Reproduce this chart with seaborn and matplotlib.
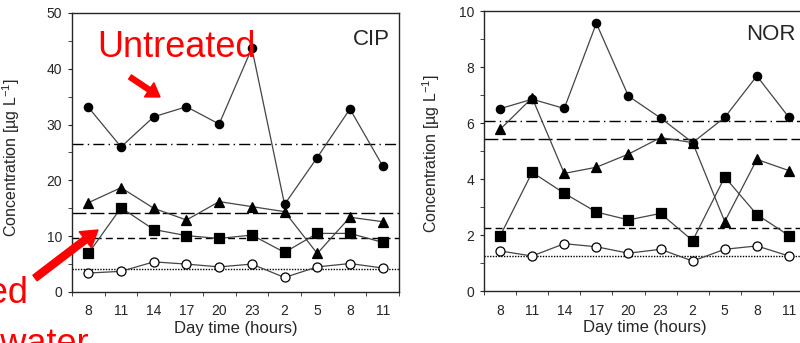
import numpy as np
import pandas as pd
import matplotlib
matplotlib.use("Agg")
import matplotlib.pyplot as plt
import seaborn as sns

sns.set_style("ticks")
plt.rcParams["font.family"] = ["Liberation Sans", "DejaVu Sans"]
plt.rcParams["mathtext.fontset"] = "custom"
plt.rcParams["mathtext.rm"] = "Liberation Sans"
plt.rcParams["mathtext.it"] = "Liberation Sans:italic"

# ---- data ----
hours = ["8", "11", "14", "17", "20", "23", "2", "5", "8", "11"]
pos = np.arange(len(hours)) + 0.5

cip_untreated = [33.1, 26.0, 31.4, 33.2, 30.1, 43.7, 15.7, 24.1, 32.8, 22.6]
cip_triangle = [16.0, 18.7, 15.0, 12.9, 16.2, 15.3, 14.4, 6.9, 13.4, 12.6]
cip_square = [6.9, 15.1, 11.2, 10.1, 9.6, 10.2, 7.1, 10.5, 10.5, 8.9]
cip_open = [3.4, 3.7, 5.4, 5.0, 4.5, 5.0, 2.6, 4.5, 5.1, 4.3]
cip_means = [26.5, 14.1, 9.7, 4.1]

nor_untreated = [6.51, 6.85, 6.52, 9.56, 6.96, 6.18, 5.3, 6.2, 7.68, 6.2]
nor_triangle = [5.77, 6.9, 4.2, 4.42, 4.89, 5.48, 5.3, 2.48, 4.7, 4.3]
nor_square = [1.96, 4.24, 3.49, 2.82, 2.54, 2.77, 1.8, 4.07, 2.73, 1.98]
nor_open = [1.43, 1.25, 1.69, 1.58, 1.35, 1.49, 1.07, 1.49, 1.61, 1.25]
nor_means = [6.08, 5.44, 2.24, 1.25]

# marker styles for the four series
styles = [
    dict(marker="o", markersize=6, markerfacecolor="black"),
    dict(marker="^", markersize=6.5, markerfacecolor="black"),
    dict(marker="s", markersize=7.5, markerfacecolor="black"),
    dict(marker="o", markersize=6.5, markerfacecolor="white"),
]
mean_dashes = [(8, 3, 1, 3), (10, 3), (5, 3), (1, 1)]

fig = plt.figure(figsize=(8, 3.43), dpi=100)
ax1 = fig.add_axes([0.09, 0.1487, 0.40875, 0.8134])
ax2 = fig.add_axes([0.605, 0.1516, 0.40125, 0.8163])


def draw_panel(ax, series, means, ymax, ystep, name, name_xy):
    for vals, st in zip(series, styles):
        sns.lineplot(x=pos, y=vals, ax=ax, sort=False, color="#444444",
                     linewidth=0.9, markeredgecolor="black",
                     markeredgewidth=0.9, zorder=3, **st)
    for m, d in zip(means, mean_dashes):
        ax.axhline(m, color="black", linewidth=1.0, dashes=d, zorder=2)
    ax.set_xlim(0, 10)
    ax.set_ylim(0, ymax)
    ax.set_xticks(pos)
    ax.set_xticklabels(hours)
    ax.set_xticks(np.arange(0, 11), minor=True)
    ax.set_yticks(np.arange(0, ymax + 0.01, ystep))
    ax.set_yticks(np.arange(ystep / 2, ymax, ystep), minor=True)
    ax.tick_params(axis="x", which="major", length=0, pad=9, labelsize=10)
    ax.tick_params(axis="x", which="minor", length=3, direction="out")
    ax.tick_params(axis="y", which="major", length=3, direction="out",
                   pad=4, labelsize=10)
    ax.tick_params(axis="y", which="minor", length=3, direction="out")
    for s in ax.spines.values():
        s.set_linewidth(1.0)
    ax.set_xlabel("Day time (hours)", fontsize=12, labelpad=2)
    ax.set_ylabel("Concentration [µg L$^{-1}$]", fontsize=11.5)
    ax.text(name_xy[0], name_xy[1], name, transform=ax.transAxes,
            fontsize=16, ha="right", va="baseline")


draw_panel(ax1, [cip_untreated, cip_triangle, cip_square, cip_open],
           cip_means, 50, 10, "CIP", (0.973, 0.886))
ax1.yaxis.set_label_coords(-0.153, 0.48)

draw_panel(ax2, [nor_untreated, nor_triangle, nor_square, nor_open],
           nor_means, 10, 2, "NOR", (0.97, 0.896))
ax2.yaxis.set_label_coords(-0.131, 0.49)

# red annotations (figure pixels, origin bottom-left)
H = 343
fig.text(176, H - 57, "Untreated", color="red", fontsize=26,
         ha="center", va="baseline", transform=None)
fig.text(28, H - 303, "Treated", color="red", fontsize=26,
         ha="right", va="baseline", transform=None)
fig.text(89, H - 354, "wastewater", color="red", fontsize=26,
         ha="right", va="baseline", transform=None)

fig.patches.append(matplotlib.patches.FancyArrow(
    130, H - 77, 30, -20, width=5, head_width=17, head_length=13,
    length_includes_head=True, color="red", transform=None, figure=fig))
fig.patches.append(matplotlib.patches.FancyArrow(
    35, H - 278, 63, 48, width=7, head_width=20, head_length=16,
    length_includes_head=True, color="red", transform=None, figure=fig))

fig.savefig("out.png", dpi=100)
